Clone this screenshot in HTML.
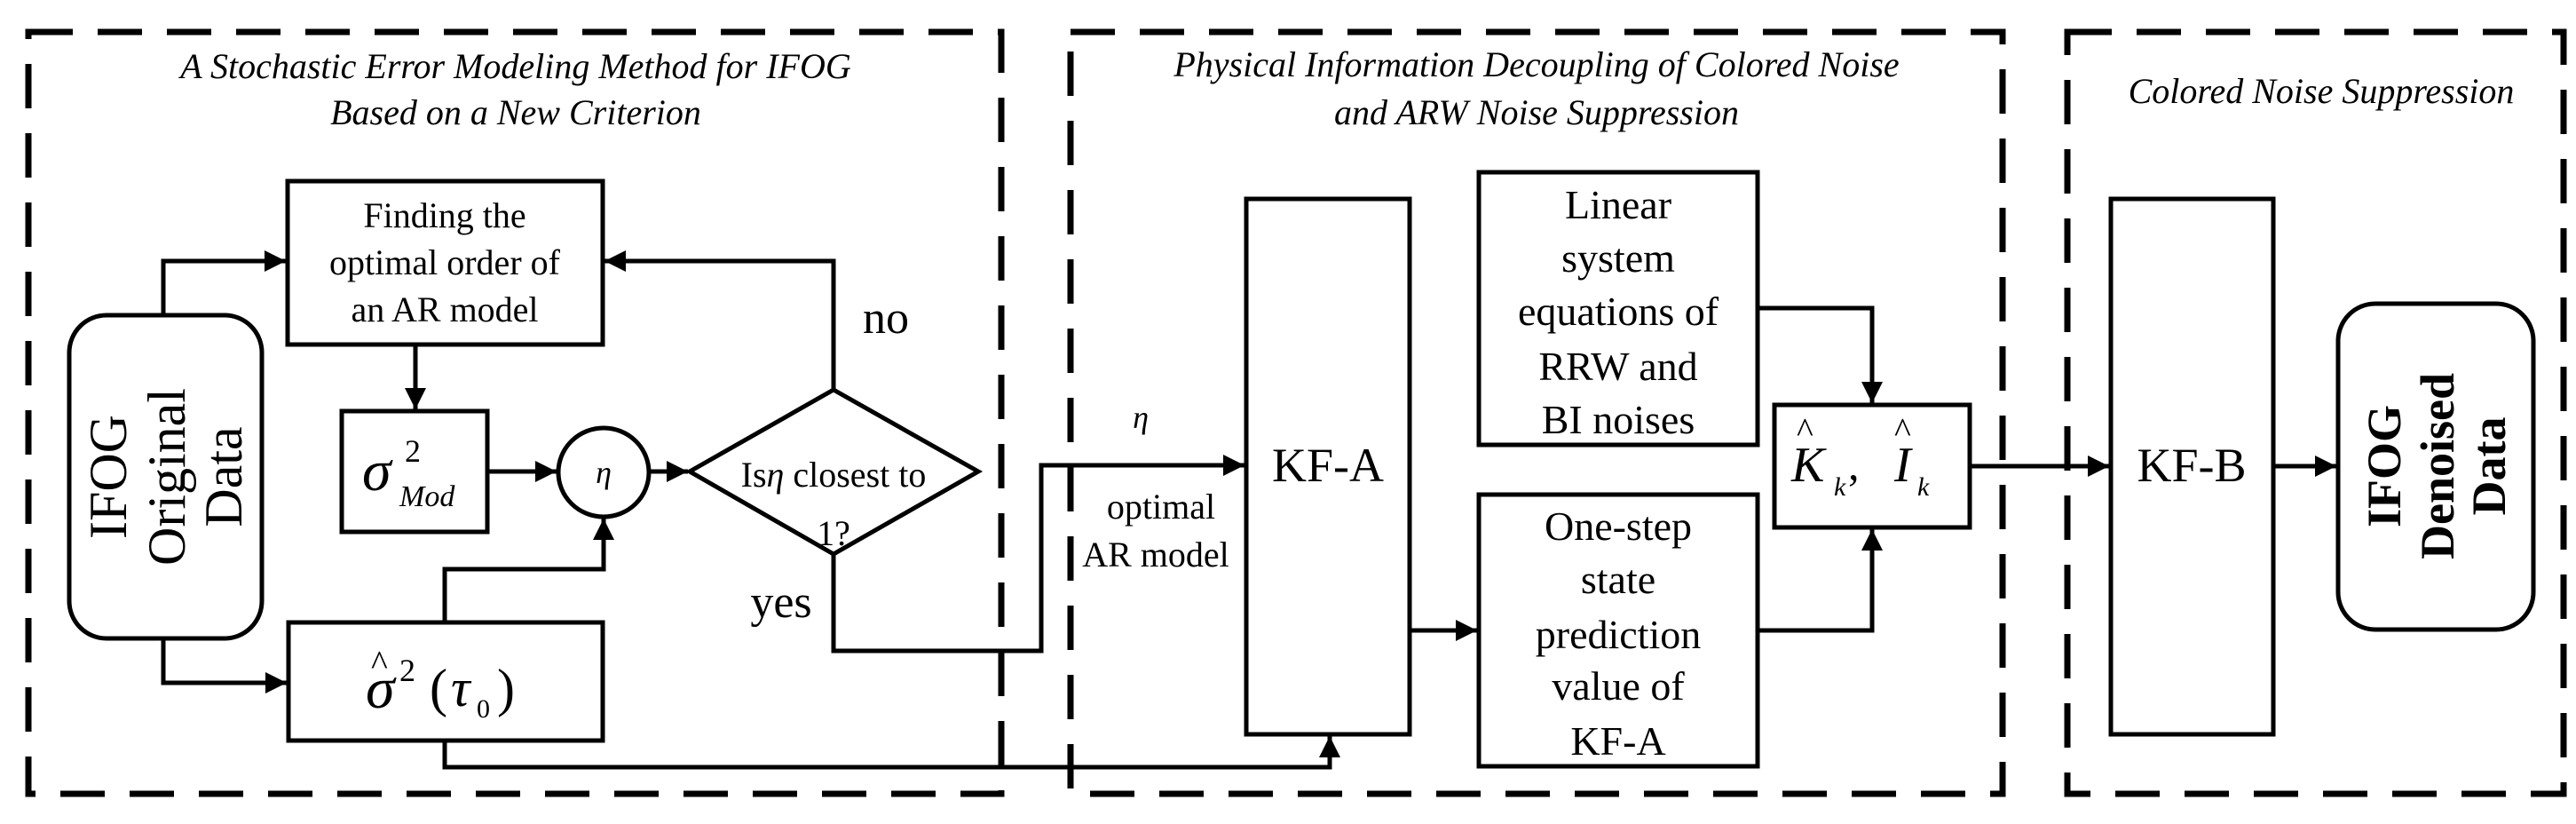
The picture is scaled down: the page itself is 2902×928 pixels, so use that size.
<!DOCTYPE html>
<html><head><meta charset="utf-8"><style>html,body{margin:0;padding:0;background:#fff}svg{display:block}</style></head><body>
<svg width="2902" height="928" viewBox="0 0 2902 928" xmlns="http://www.w3.org/2000/svg" font-family="Liberation Serif, serif">
<defs><marker id="a" markerWidth="10" markerHeight="10" refX="9" refY="5" orient="auto" markerUnits="userSpaceOnUse" viewBox="0 0 10 10"><path d="M0,0 L10,5 L0,10z"/></marker>
<marker id="b" viewBox="0 0 10 10" refX="10" refY="5" markerWidth="24" markerHeight="26" orient="auto" markerUnits="userSpaceOnUse"><path d="M0,0 L10,5 L0,10z" fill="#000"/></marker></defs>
<g fill="none" stroke="#000" stroke-width="7" stroke-dasharray="50 28">
<rect x="32" y="36" width="1096" height="858"/>
<rect x="1206" y="36" width="1050" height="858"/>
<rect x="2329" y="36" width="559" height="858"/>
</g>
<g font-style="italic" font-size="40" text-anchor="middle">
<text x="581" y="88">A Stochastic Error Modeling Method for IFOG</text>
<text x="581" y="140">Based on a New Criterion</text>
<text x="1731" y="86">Physical Information Decoupling of Colored Noise</text>
<text x="1731" y="140">and ARW Noise Suppression</text>
<text x="2615" y="116">Colored Noise Suppression</text>
</g>
<g fill="none" stroke="#000" stroke-width="5">
<rect x="324" y="204" width="355" height="184"/>
<rect x="78" y="355" width="217" height="364" rx="42"/>
<rect x="385" y="463" width="164" height="136"/>
<ellipse cx="680" cy="532" rx="51" ry="50"/>
<path d="M777,531 L939,439 L1102,531 L939,624 Z"/>
<rect x="325" y="701" width="354" height="133"/>
<rect x="1404" y="224" width="184" height="603"/>
<rect x="1666" y="194" width="314" height="307"/>
<rect x="1666" y="557" width="314" height="306"/>
<rect x="1999" y="456" width="220" height="138"/>
<rect x="2378" y="224" width="183" height="603"/>
<rect x="2634" y="342" width="220" height="367" rx="42"/>
<g marker-end="url(#b)">
<path d="M184,355 V294 H322"/>
<path d="M184,719 V769 H323"/>
<path d="M468,388 V461"/>
<path d="M549,531 H627"/>
<path d="M731,531 H775"/>
<path d="M939,439 V294 H681"/>
<path d="M501,701 V641 H680 V584"/>
<path d="M939,624 V733 H1173 V524 H1402"/>
<path d="M501,834 V864 H1498 V829"/>
<path d="M1588,710 H1664"/>
<path d="M1980,347 H2109 V454"/>
<path d="M1980,710 H2109 V596"/>
<path d="M2219,525 H2376"/>
<path d="M2561,525 H2632"/>
</g>
</g>
<g font-size="40" text-anchor="middle">
<text x="501" y="256">Finding the</text>
<text x="501" y="309">optimal order of</text>
<text x="501" y="362">an AR model</text>
<text x="939" y="548">Is<tspan font-style="italic">η</tspan> closest to</text>
<text x="939" y="614">1?</text>
<text x="1308" y="584">optimal</text>
<text x="1302" y="638">AR model</text>
</g>
<text x="998" y="375" font-size="52" text-anchor="middle">no</text>
<text x="880" y="695" font-size="52" text-anchor="middle">yes</text>
<text x="1285" y="482" font-size="36" font-style="italic" text-anchor="middle">η</text>
<text x="680" y="544" font-size="36" font-style="italic" text-anchor="middle">η</text>
<g font-size="46" text-anchor="middle">
<text x="1823" y="246">Linear</text>
<text x="1823" y="306">system</text>
<text x="1823" y="366">equations of</text>
<text x="1823" y="428">RRW and</text>
<text x="1823" y="488">BI noises</text>
<text x="1823" y="608">One-step</text>
<text x="1823" y="668">state</text>
<text x="1823" y="730">prediction</text>
<text x="1823" y="788">value of</text>
<text x="1823" y="850">KF-A</text>
<text x="1496" y="542" font-size="54">KF-A</text>
<text x="2469" y="542" font-size="54">KF-B</text>
</g>
<text transform="translate(186,537) rotate(-90)" font-size="60" text-anchor="middle"><tspan x="0" y="-44">IFOG</tspan><tspan x="0" y="22">Original</tspan><tspan x="0" y="86">Data</tspan></text>
<text transform="translate(2744,525) rotate(-90)" font-size="54" font-weight="bold" text-anchor="middle"><tspan x="0" y="-40">IFOG</tspan><tspan x="0" y="20">Denoised</tspan><tspan x="0" y="78">Data</tspan></text>
<text x="408" y="552" font-size="66" font-style="italic">σ</text>
<text x="456" y="520" font-size="36">2</text>
<text x="450" y="570" font-size="34" font-style="italic">Mod</text>
<text x="412" y="797" font-size="66" font-style="italic">σ</text>
<text x="418" y="760" font-size="40">^</text>
<text x="450" y="767" font-size="36">2</text>
<text x="484" y="795" font-size="60">(</text>
<text x="508" y="795" font-size="60" font-style="italic">τ</text>
<text x="537" y="808" font-size="30">0</text>
<text x="560" y="795" font-size="60">)</text>
<text x="2018" y="542" font-size="56" font-style="italic">K</text>
<text x="2024" y="498" font-size="40">^</text>
<text x="2066" y="558" font-size="30" font-style="italic">k</text>
<text x="2082" y="540" font-size="50">,</text>
<text x="2134" y="542" font-size="56" font-style="italic">I</text>
<text x="2134" y="498" font-size="40">^</text>
<text x="2160" y="558" font-size="30" font-style="italic">k</text>
</svg>
</body></html>
